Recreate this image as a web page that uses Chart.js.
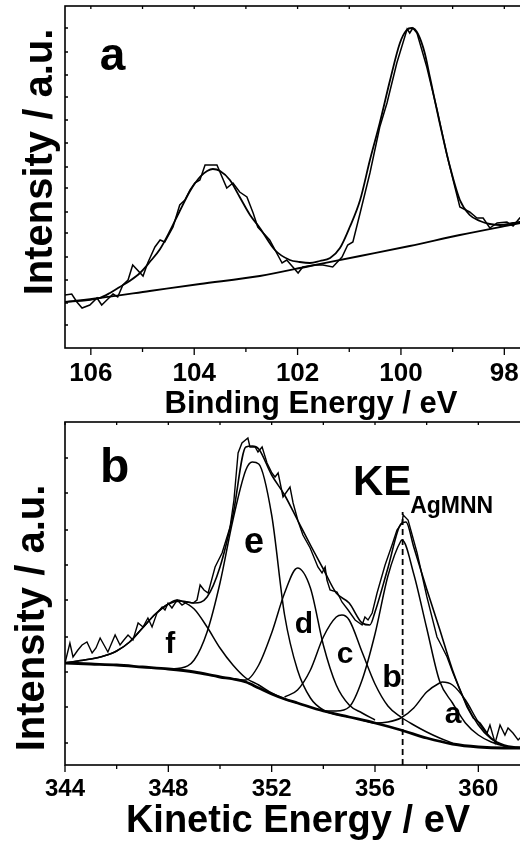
<!DOCTYPE html>
<html>
<head>
    <title>XPS Si 2p / Ag MNN</title>
    <script src="https://cdn.jsdelivr.net/npm/chart.js"></script>
    <style>
        body { margin: 0; background: #fff; width: 520px; height: 843px; overflow: hidden; position: relative; }
        canvas { position: absolute; left: 0; }
        #chartA { top: 0; }
        #chartB { top: 418px; }
    </style>
</head>
<body>
    <canvas id="chartA" width="560" height="425"></canvas>
    <canvas id="chartB" width="560" height="425"></canvas>
    <script>
        // panel a: binding energy (eV) / intensity (a.u.)
        const beRaw = [106.50, 106.37, 106.27, 106.17, 106.02, 105.88, 105.79, 105.69, 105.57, 105.48, 105.38, 105.28, 105.19, 104.99, 104.90, 104.76, 104.66, 104.57, 104.41, 104.28, 104.18, 104.08, 103.99, 103.89, 103.79, 103.56, 103.37, 103.25, 103.12, 102.98, 102.86, 102.77, 102.54, 102.30, 102.21, 101.99, 101.90, 101.66, 101.51, 101.32, 101.14, 101.03, 100.93, 100.79, 100.60, 100.41, 100.27, 100.08, 99.88, 99.83, 99.77, 99.69, 99.50, 99.30, 99.11, 98.86, 98.67, 98.53, 98.41, 98.28, 98.14, 97.95, 97.83, 97.70, 97.55];
        const intRawA = [53, 54, 46, 40, 43, 50, 43, 48, 54, 51, 63, 68, 83, 72, 85, 101, 108, 106, 121, 143, 148, 158, 165, 168, 183, 183, 160, 165, 156, 151, 135, 121, 108, 85, 88, 75, 81, 83, 83, 81, 91, 103, 106, 135, 175, 221, 245, 285, 319, 315, 320, 315, 281, 238, 193, 141, 136, 130, 130, 120, 125, 126, 122, 130, 133];
        const beFit = [106.50, 105.83, 105.63, 105.44, 105.25, 105.05, 104.86, 104.66, 104.47, 104.28, 104.08, 103.89, 103.75, 103.64, 103.50, 103.31, 103.12, 102.92, 102.73, 102.44, 102.15, 101.96, 101.76, 101.57, 101.37, 101.18, 100.99, 100.79, 100.60, 100.41, 100.21, 100.02, 99.89, 99.79, 99.67, 99.54, 99.44, 99.25, 99.05, 98.86, 98.67, 98.47, 98.28, 98.08, 97.83, 97.70, 97.40, 97.00];
        const intFitA = [46, 50, 55, 61, 67, 75, 86, 99, 117, 137, 157, 171, 177, 179, 177, 168, 151, 133, 120, 98, 88, 86, 85, 87, 90, 100, 121, 148, 188, 225, 268, 305, 318, 320, 314, 295, 271, 225, 181, 148, 133, 127, 124, 123, 125, 126, 129, 132];
        const beBg = [106.50, 105.83, 104.86, 103.89, 102.73, 101.76, 100.79, 99.83, 98.86, 97.89, 97.00];
        const intBgA = [46, 50, 57, 64, 72, 82, 92, 102, 113, 123, 132];
        const majorsA = [98, 100, 102, 104, 106];
        const minorsA = [97, 99, 101, 103, 105];
        const yTicksA = [23, 45, 68, 91, 115, 136, 160, 181, 205, 228, 251, 273, 296, 320];

        // panel b: kinetic energy (eV) / intensity (a.u.)
        const keRaw = [344.00, 344.19, 344.31, 344.50, 344.66, 344.85, 345.05, 345.20, 345.36, 345.51, 345.66, 345.94, 346.13, 346.28, 346.44, 346.63, 346.83, 347.02, 347.21, 347.37, 347.56, 347.76, 347.87, 347.99, 348.14, 348.34, 348.53, 348.72, 348.96, 349.11, 349.23, 349.38, 349.54, 349.81, 350.08, 350.39, 350.54, 350.70, 350.85, 351.08, 351.16, 351.36, 351.47, 351.63, 351.82, 352.01, 352.13, 352.25, 352.44, 352.71, 352.83, 353.02, 353.21, 353.49, 353.79, 353.95, 354.07, 354.14, 354.26, 354.53, 354.72, 354.96, 355.23, 355.50, 355.61, 355.73, 355.89, 356.08, 356.39, 356.66, 356.85, 357.05, 357.09, 357.28, 357.63, 358.01, 358.40, 358.52, 358.79, 359.02, 359.29, 359.56, 359.80, 360.07, 360.34, 360.45, 360.65, 360.84, 361.03, 361.15, 361.34, 361.54, 361.73, 362.00];
        const intRawB = [102, 122, 108, 115, 120, 123, 112, 117, 127, 120, 113, 130, 120, 125, 130, 125, 142, 138, 147, 138, 152, 158, 155, 162, 157, 165, 160, 163, 162, 165, 180, 175, 172, 198, 212, 238, 265, 312, 322, 327, 318, 318, 313, 318, 302, 292, 288, 292, 268, 278, 262, 244, 230, 217, 198, 192, 198, 185, 175, 173, 163, 155, 145, 140, 148, 145, 152, 172, 200, 220, 235, 242, 250, 245, 212, 168, 128, 122, 108, 92, 75, 58, 47, 42, 32, 40, 22, 40, 30, 37, 32, 25, 30, 23];
        const keEnv = [344, 344.5, 345, 345.5, 346, 346.5, 347, 347.5, 348, 348.5, 349, 349.5, 350, 350.5, 351, 351.25, 351.5, 352, 352.5, 353, 353.5, 354, 354.5, 355, 355.5, 355.8, 356, 356.5, 357, 357.2, 357.5, 358, 358.5, 359, 359.5, 360, 360.5, 361, 361.5, 362];
        const intEnv = [102, 104, 106, 109, 114, 123, 137, 151, 161, 164, 162, 168, 198, 250, 318, 319, 316, 290, 270, 245, 220, 196, 172, 162, 142, 140, 153, 197, 241, 243, 218, 176, 136, 95, 63, 40, 26, 19, 17, 17];
        const keBgB = [344, 345, 346, 347, 348, 349, 350, 350.5, 351, 351.5, 352, 352.5, 353, 354, 355, 356, 357, 358, 359, 360, 361, 362];
        const intBgB = [102, 101, 100, 98, 96, 93, 88, 86, 83, 77, 71, 66, 62, 54, 48, 42, 35, 27, 21, 18, 17, 17];
        const keF = [344, 344.5, 345, 345.5, 346, 346.5, 347, 347.5, 348, 348.34, 348.5, 349, 349.5, 350, 350.5, 351, 351.5, 352, 352.5, 353];
        const intF = [102, 104, 106, 109, 114, 123, 137, 151, 161, 165, 164, 156, 138, 117, 100, 87, 80, 72, 66, 62];
        const keE = [348, 348.5, 349, 349.5, 350, 350.5, 351, 351.25, 351.5, 352, 352.5, 353, 353.5, 354, 355];
        const intE = [96, 97, 105, 133, 182, 245, 295, 303, 301, 250, 150, 95, 67, 55, 48];
        const keD = [350.5, 351, 351.5, 352, 352.5, 353, 353.5, 354, 354.5, 355, 355.5, 356];
        const intD = [86, 85, 100, 132, 172, 197, 177, 120, 80, 60, 52, 45];
        const keC = [352.5, 353, 353.5, 354, 354.5, 354.72, 355, 355.5, 356, 356.5, 357, 357.5, 358, 358.5, 359];
        const intC = [68, 75, 95, 128, 148, 150, 145, 113, 81, 59, 48, 40, 33, 27, 22];
        const keB = [354, 354.5, 355, 355.5, 356, 356.5, 357, 357.05, 357.5, 358, 358.5, 359, 359.5, 360, 360.5, 361, 361.5, 362];
        const intB = [54, 54, 58, 85, 131, 189, 224, 225, 191, 137, 84, 62, 42, 30, 23, 19, 17, 17];
        const keA = [355.5, 356, 356.5, 357, 357.5, 358, 358.5, 358.6, 359, 359.5, 360, 360.5, 361, 361.5, 362];
        const intA = [45, 42, 43, 47, 57, 73, 82, 83, 80, 65, 43, 27, 20, 18, 17];
        const keMarker = [357.07, 357.07];
        const intMarker = [0, 253];
        const majorsB = [344, 348, 352, 356, 360];
        const minorsB = [346, 350, 354, 358, 362];
        const yTicksB = [22, 58, 93, 128, 165, 200, 235, 272, 307];

        const FONT = '"Liberation Sans", Arial, Helvetica, sans-serif';

        const line = (xs, ys, width, extra) => Object.assign({
            data: xs.map((v, i) => ({ x: v, y: ys[i] })),
            borderColor: '#000',
            borderWidth: width,
            pointRadius: 0,
            fill: false,
            cubicInterpolationMode: 'monotone'
        }, extra || {});

        const raw = { cubicInterpolationMode: 'default', tension: 0 };

        // frame, ticks and texts
        const decoPlugin = {
            id: 'deco',
            afterDraw(chart, args, opts) {
                const { ctx, chartArea: ar } = chart;
                const x = chart.scales.x, y = chart.scales.y;
                ctx.save();
                ctx.strokeStyle = '#000';
                ctx.lineWidth = 1.6;
                ctx.strokeRect(ar.left, ar.top, ar.right - ar.left, ar.bottom - ar.top);
                ctx.lineWidth = 1.3;
                ctx.beginPath();
                opts.majors.forEach(v => {
                    const px = x.getPixelForValue(v);
                    ctx.moveTo(px, ar.bottom); ctx.lineTo(px, ar.bottom + 7);
                    ctx.moveTo(px, ar.top); ctx.lineTo(px, ar.top + 3);
                });
                opts.minors.forEach(v => {
                    const px = x.getPixelForValue(v);
                    ctx.moveTo(px, ar.bottom); ctx.lineTo(px, ar.bottom + 4);
                    ctx.moveTo(px, ar.top); ctx.lineTo(px, ar.top + 3);
                });
                opts.yTicks.forEach(v => {
                    const py = y.getPixelForValue(v);
                    ctx.moveTo(ar.left, py); ctx.lineTo(ar.left + 3, py);
                });
                ctx.stroke();

                ctx.fillStyle = '#000';
                ctx.textBaseline = 'alphabetic';
                // axis titles
                const yt = opts.yTitle;
                ctx.save();
                ctx.translate(yt.x, yt.y);
                ctx.rotate(-Math.PI / 2);
                ctx.textAlign = 'center';
                ctx.font = 'bold ' + yt.size + 'px ' + FONT;
                ctx.fillText(yt.text, 0, 0);
                ctx.restore();
                const xt = opts.xTitle;
                ctx.textAlign = 'center';
                ctx.font = 'bold ' + xt.size + 'px ' + FONT;
                ctx.fillText(xt.text, xt.x, xt.y);
                // labels placed in data units
                opts.labels.forEach(l => {
                    ctx.textAlign = l.align;
                    ctx.font = 'bold ' + l.size + 'px ' + FONT;
                    ctx.fillText(l.text, x.getPixelForValue(l.x), y.getPixelForValue(l.y));
                });
                ctx.restore();
            }
        };

        const makePanel = (id, p) => new Chart(document.getElementById(id), {
            type: 'line',
            data: { datasets: p.datasets },
            options: {
                responsive: false,
                animation: false,
                devicePixelRatio: 1,
                layout: { autoPadding: false, padding: p.padding },
                plugins: { legend: { display: false }, tooltip: { enabled: false }, deco: p.deco },
                scales: {
                    x: {
                        type: 'linear', min: p.xMin, max: p.xMax, reverse: p.reverse,
                        afterBuildTicks: s => { s.ticks = p.deco.majors.map(v => ({ value: v })); },
                        afterFit: s => { s.height = p.axisHeight; },
                        grid: { display: false, drawTicks: false },
                        border: { display: false },
                        ticks: {
                            color: '#000', padding: 10, maxRotation: 0, autoSkip: false,
                            font: { family: FONT, size: p.tickSize, weight: 'bold' }
                        }
                    },
                    y: { type: 'linear', display: false, min: 0, max: p.yMax }
                }
            },
            plugins: [decoPlugin]
        });

        makePanel('chartA', {
            xMin: 97, xMax: 106.5, reverse: true, yMax: 342,
            padding: { left: 65, top: 6, right: 4, bottom: 0 },
            axisHeight: 77, tickSize: 26,
            datasets: [
                line(beBg, intBgA, 1.8),
                line(beFit, intFitA, 1.8),
                line(beRaw, intRawA, 1.5, raw)
            ],
            deco: {
                majors: majorsA, minors: minorsA, yTicks: yTicksA,
                yTitle: { text: 'Intensity / a.u.', x: 52, y: 162, size: 40 },
                xTitle: { text: 'Binding Energy / eV', x: 311, y: 413, size: 31 },
                labels: [{ text: 'a', x: 105.83, y: 278, size: 46, align: 'left' }]
            }
        });

        makePanel('chartB', {
            xMin: 344, xMax: 362, reverse: false, yMax: 343,
            padding: { left: 65, top: 4, right: 30, bottom: 0 },
            axisHeight: 78, tickSize: 24,
            datasets: [
                line(keBgB, intBgB, 2.8),
                line(keF, intF, 1.5),
                line(keE, intE, 1.5),
                line(keD, intD, 1.5),
                line(keC, intC, 1.5),
                line(keB, intB, 1.5),
                line(keA, intA, 1.5),
                line(keEnv, intEnv, 1.6),
                line(keRaw, intRawB, 1.4, raw),
                line(keMarker, intMarker, 1.8, Object.assign({ borderDash: [6, 4] }, raw))
            ],
            deco: {
                majors: majorsB, minors: minorsB, yTicks: yTicksB,
                yTitle: { text: 'Intensity / a.u.', x: 44, y: 200, size: 40 },
                xTitle: { text: 'Kinetic Energy / eV', x: 298, y: 414, size: 38 },
                labels: [
                    { text: 'b', x: 345.35, y: 283, size: 48, align: 'left' },
                    { text: 'f', x: 348.07, y: 112, size: 30, align: 'center' },
                    { text: 'e', x: 351.32, y: 212, size: 36, align: 'center' },
                    { text: 'd', x: 353.25, y: 132, size: 30, align: 'center' },
                    { text: 'c', x: 354.84, y: 102, size: 30, align: 'center' },
                    { text: 'b', x: 356.66, y: 78, size: 32, align: 'center' },
                    { text: 'a', x: 359.02, y: 42, size: 30, align: 'center' },
                    { text: 'KE', x: 355.15, y: 270, size: 42, align: 'left' },
                    { text: 'AgMNN', x: 357.36, y: 252, size: 23, align: 'left' }
                ]
            }
        });
    </script>
</body>
</html>
